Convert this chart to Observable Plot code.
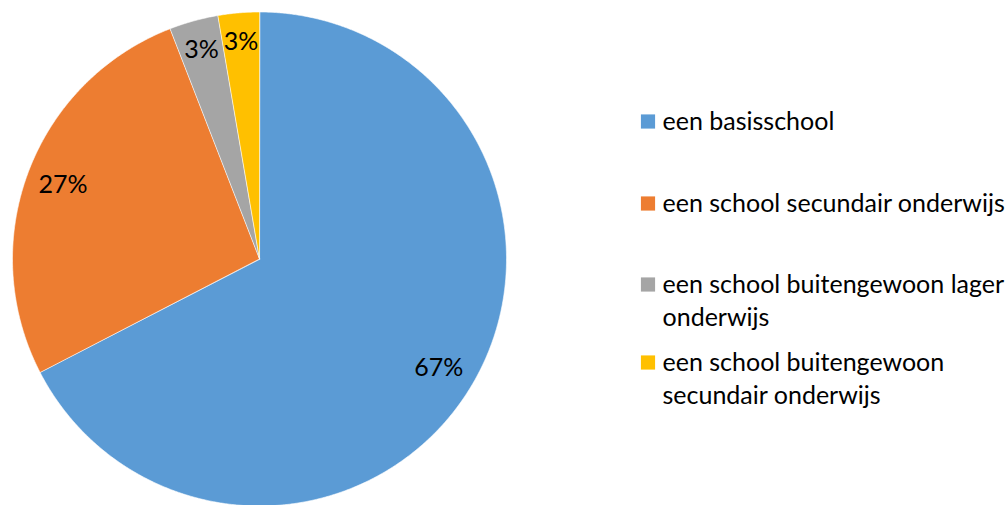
<!DOCTYPE html>
<html>
<head>
<meta charset="utf-8">
<script src="https://cdn.jsdelivr.net/npm/d3@7"></script>
<script src="https://cdn.jsdelivr.net/npm/@observablehq/plot@0.6"></script>
<style>
  html, body { margin: 0; padding: 0; background: #ffffff; }
  #chart svg { display: block; }
</style>
</head>
<body>
<div id="chart"></div>
<script>
// ---- data ----
const categories = [
  "een basisschool",
  "een school secundair onderwijs",
  "een school buitengewoon lager onderwijs",
  "een school buitengewoon secundair onderwijs"
];
const values = [67.4, 26.7, 3.2, 2.7];
const pctLabels = ["67%", "27%", "3%", "3%"];
const legendLabels = [
  "een basisschool",
  "een school secundair onderwijs",
  "een school buitengewoon lager\nonderwijs",
  "een school buitengewoon\nsecundair onderwijs"
];
const colors = ["#5B9BD5", "#ED7D31", "#A5A5A5", "#FFC000"];

// ---- layout ----
const W = 1007, H = 505;
const cx = 259, cy = 258.5, R = 247;
const FONT = "Lato, 'Open Sans', sans-serif";
const FS = 25;
const LH = 1.3;

const rows = categories.map((c, i) => ({category: c, value: values[i], label: pctLabels[i], legend: legendLabels[i]}));

const arcs = d3.pie().sort(null).value(d => d.value)(rows);

// polygon points for each slice (unit circle coordinates, y up)
const polys = [];
for (const a of arcs) {
  const n = Math.max(2, Math.ceil((a.endAngle - a.startAngle) / 0.005));
  polys.push({category: a.data.category, x: 0, y: 0});
  for (let k = 0; k <= n; k++) {
    const t = a.startAngle + (a.endAngle - a.startAngle) * k / n;
    polys.push({category: a.data.category, x: Math.sin(t), y: Math.cos(t)});
  }
}

const labelPts = arcs.map(a => {
  const m = (a.startAngle + a.endAngle) / 2;
  const f = a.data.value < 10 ? 0.88 : 0.85;
  return {label: a.data.label, x: f * Math.sin(m), y: f * Math.cos(m)};
});

// legend positions (pixel layout converted to unit coordinates)
const ux = px => (px - cx) / R;
const uy = py => (cy - py) / R;
const legendRowY = [121, 203, 284, 362];
const legendPts = rows.map((d, i) => ({
  category: d.category,
  legend: d.legend,
  sx: ux(647.5), tx: ux(662), y: uy(legendRowY[i])
}));

const chart = Plot.plot({
  width: W,
  height: H,
  margin: 0,
  style: {fontFamily: FONT, background: "#fff"},
  x: {domain: [-cx / R, (W - cx) / R], axis: null},
  y: {domain: [-(H - cy) / R, cy / R], axis: null},
  color: {domain: categories, range: colors},
  marks: [
    ...categories.map((c, i) =>
      Plot.line(polys.filter(p => p.category === c), {
        x: "x", y: "y", fill: colors[i], stroke: "#fff", strokeWidth: 0.6,
        curve: "linear-closed"
      })
    ),
    Plot.text(labelPts, {
      x: "x", y: "y", text: "label", fontSize: FS, fill: "#000",
      textAnchor: "middle", lineAnchor: "middle"
    }),
    Plot.dot(legendPts, {
      x: "sx", y: "y", fill: "category", symbol: "square", r: 8, stroke: null
    }),
    Plot.text(legendPts, {
      x: "tx", y: "y", text: "legend", fontSize: FS, fill: "#000",
      textAnchor: "start", lineAnchor: "top", lineHeight: LH,
      dy: -FS * LH / 2 + 2
    })
  ]
});

document.getElementById("chart").appendChild(chart);
</script>
</body>
</html>
